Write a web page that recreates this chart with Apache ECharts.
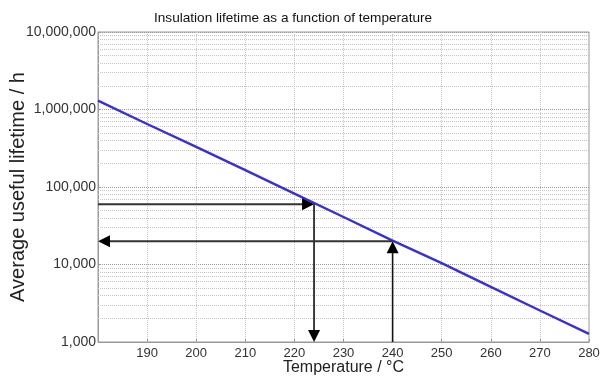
<!DOCTYPE html>
<html>
<head>
<meta charset="utf-8">
<script src="https://cdn.jsdelivr.net/npm/echarts@6/dist/echarts.min.js"></script>
<style>
  html, body { margin: 0; padding: 0; background: #fff; }
  #main { width: 603px; height: 378px; }
</style>
</head>
<body>
<div id="main"></div>
<script>
// temperature (degC) and average useful lifetime (h)
var temps = [180, 190, 200, 210, 220, 230, 240, 250, 260, 270, 280];
var lifetime = [1300000, 650000, 330000, 165000, 82000, 41000, 20300, 10400, 5150, 2550, 1270];

// the two readings drawn with arrows: [temperature, lifetime]
var readA = [224, 60000];
var readB = [240, 20000];

// minor log gridlines (2..9 of each decade)
var minorY = [];
var decades = [1000, 10000, 100000, 1000000];
for (let d = 0; d < decades.length; d++) {
    for (let k = 2; k <= 9; k++) {
        minorY.push(decades[d] * k);
    }
}

var xMin = 180, yMin = 1000;
var font = 'Liberation Sans, Arial, sans-serif';

// arrow segments [x from, y from, x to, y to], head at the "to" end
var arrows = [
    [xMin, readA[1], readA[0], readA[1]],
    [readA[0], readA[1], readA[0], yMin],
    [readB[0], yMin, readB[0], readB[1]],
    [readB[0], readB[1], xMin, readB[1]]
];

var chart = echarts.init(document.getElementById('main'));

var lineData = temps.map(function (t, i) { return [t, lifetime[i]]; });

function renderArrow(params, api) {
    var p1 = api.coord([api.value(0), api.value(1)]);
    var p2 = api.coord([api.value(2), api.value(3)]);
    var dx = p2[0] - p1[0], dy = p2[1] - p1[1];
    var len = Math.sqrt(dx * dx + dy * dy) || 1;
    var ux = dx / len, uy = dy / len;
    var headLen = 12, headHalf = 6;
    var bx = p2[0] - ux * headLen, by = p2[1] - uy * headLen;
    // horizontal ones are a bit heavier and greyer in the original
    var horiz = Math.abs(uy) < 0.5;
    return {
        type: 'group',
        children: [{
            type: 'line',
            shape: { x1: p1[0], y1: p1[1], x2: bx, y2: by },
            style: { stroke: horiz ? '#333' : '#111', lineWidth: horiz ? 2 : 1.6 }
        }, {
            type: 'polygon',
            shape: {
                points: [
                    [p2[0], p2[1]],
                    [bx - uy * headHalf, by + ux * headHalf],
                    [bx + uy * headHalf, by - ux * headHalf]
                ]
            },
            style: { fill: '#000', stroke: null }
        }]
    };
}

chart.setOption({
    animation: false,
    title: {
        text: 'Insulation lifetime as a function of temperature',
        left: 149,
        top: 6,
        textStyle: { fontFamily: font, fontSize: 13.6, fontWeight: 'normal', color: '#111' }
    },
    grid: {
        left: 98, right: 14, top: 32, bottom: 36,
        outerBoundsMode: 'none',
        show: true, borderColor: '#999', borderWidth: 1
    },
    xAxis: {
        type: 'value',
        min: 180, max: 280, interval: 10,
        name: 'Temperature / \u00b0C',
        nameLocation: 'middle',
        nameGap: 18,
        nameMoveOverlap: false,
        nameTextStyle: { fontFamily: font, fontSize: 16, color: '#222' },
        axisLine: { lineStyle: { color: '#999' } },
        axisTick: { inside: true, length: 3, lineStyle: { color: '#999' } },
        axisLabel: { showMinLabel: false, fontFamily: font, fontSize: 13, color: '#333', margin: 5 },
        splitLine: { show: true, lineStyle: { color: '#c8c8c8', type: 'dotted' } }
    },
    yAxis: {
        type: 'log',
        logBase: 10,
        min: 1000, max: 10000000,
        name: 'Average useful lifetime / h',
        nameLocation: 'middle',
        nameGap: 70,
        nameMoveOverlap: false,
        nameTextStyle: { fontFamily: font, fontSize: 20, color: '#222' },
        axisLine: { show: true, lineStyle: { color: '#999' } },
        axisTick: { inside: true, length: 3, lineStyle: { color: '#999' } },
        axisLabel: {
            fontFamily: font, fontSize: 14, color: '#333', margin: 2,
            formatter: function (v) { return Math.round(v).toLocaleString('en-US'); }
        },
        splitLine: { show: true, lineStyle: { color: '#999', type: 'dotted' } }
    },
    series: [{
        name: 'minor grid',
        type: 'line',
        data: [],
        silent: true,
        z: 1,
        markLine: {
            silent: true,
            z: 1,
            symbol: 'none',
            label: { show: false },
            lineStyle: { color: '#c4c4c4', width: 1, type: 'dotted' },
            data: minorY.map(function (v) { return { yAxis: v }; })
        }
    }, {
        name: 'lifetime',
        type: 'line',
        data: lineData,
        symbol: 'none',
        lineStyle: { color: '#3a2fd6', width: 2.4 },
        z: 3
    }, {
        name: 'arrows',
        type: 'custom',
        data: arrows,
        encode: { x: [0, 2], y: [1, 3] },
        renderItem: renderArrow,
        silent: true,
        clip: false,
        z: 10
    }]
});
</script>
</body>
</html>
